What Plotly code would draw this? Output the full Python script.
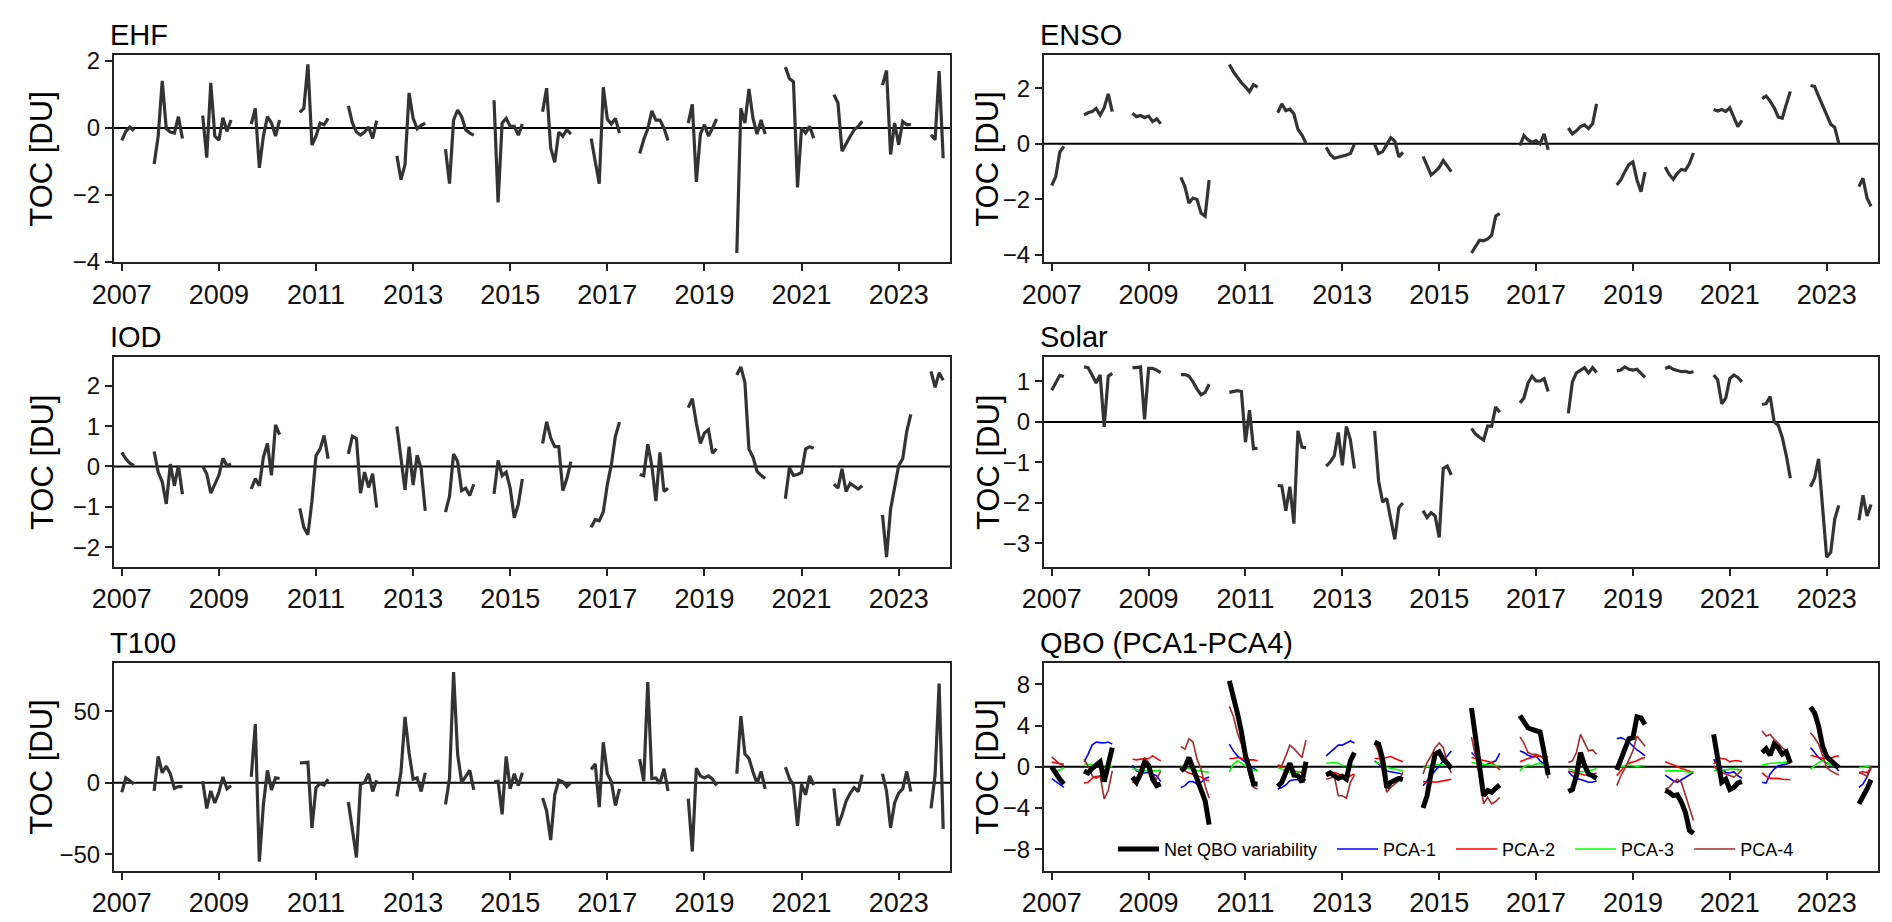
import plotly.graph_objects as go
from plotly.subplots import make_subplots

# time axis: Jan-Apr 2007, then Sep-Apr winters 2007/08 .. 2022/23, then Sep-Dec 2023
first_months = [1, 2, 3, 4]
winter_months = [9, 10, 11, 12, 1, 2, 3, 4]
last_months = [9, 10, 11, 12]
winter_years = list(range(2007, 2023))
year_ticks = list(range(2007, 2024, 2))

# one row per season segment (DU)
ehf = [
    [-0.37, -0.1, 0.03, -0.08],
    [-1.07, -0.24, 1.41, -0.02, -0.12, -0.15, 0.34, -0.31],
    [0.37, -0.88, 1.35, -0.24, -0.36, 0.31, -0.1, 0.24],
    [0.12, 0.59, -1.19, -0.24, 0.34, 0.15, -0.24, 0.24],
    [0.47, 0.59, 1.9, -0.51, -0.24, 0.15, 0.1, 0.29],
    [0.66, 0.15, -0.12, -0.21, -0.12, 0.03, -0.31, 0.22],
    [-0.83, -1.54, -1.09, 1.05, 0.29, -0.02, 0.08, 0.15],
    [-0.63, -1.66, 0.24, 0.54, 0.34, -0.05, -0.15, -0.21],
    [0.83, -2.22, 0.15, 0.29, 0.05, 0.05, -0.21, 0.12],
    [0.49, 1.19, -0.59, -1.02, -0.12, -0.24, -0.05, -0.18],
    [-0.31, -0.95, -1.66, 1.22, 0.27, 0.12, 0.29, -0.15],
    [-0.76, -0.34, -0.02, 0.51, 0.24, 0.24, 0.0, -0.37],
    [0.15, 0.71, -1.61, -0.18, 0.1, -0.24, 0.0, 0.27],
    [-3.73, 0.59, 0.15, 1.17, 0.29, -0.18, 0.24, -0.18],
    [1.82, 1.48, 1.38, -1.77, 0.0, -0.15, 0.05, -0.3],
    [1.0, 0.75, -0.69, -0.45, -0.25, -0.05, 0.05, 0.2],
    [1.28, 1.72, -0.79, 0.15, -0.5, 0.2, 0.1, 0.1],
    [-0.2, -0.35, 1.7, -0.9],
]

enso = [
    [-1.5, -1.18, -0.3, -0.09],
    [1.04, 1.12, 1.16, 1.28, 1.04, 1.3, 1.8, 1.16],
    [1.1, 0.98, 1.02, 0.95, 1.0, 0.8, 0.9, 0.72],
    [-1.21, -1.54, -2.13, -1.95, -2.0, -2.5, -2.6, -1.3],
    [2.86, 2.6, 2.4, 2.2, 2.05, 1.88, 2.13, 2.04],
    [1.12, 1.44, 1.2, 1.25, 1.08, 0.52, 0.32, 0.02],
    [-0.12, -0.38, -0.52, -0.47, -0.45, -0.4, -0.35, 0.0],
    [-0.02, -0.35, -0.28, 0.0, 0.22, 0.1, -0.47, -0.3],
    [-0.45, -0.82, -1.12, -1.0, -0.85, -0.6, -0.8, -1.0],
    [-3.93, -3.69, -3.47, -3.49, -3.42, -3.29, -2.6, -2.51],
    [-0.06, 0.3, 0.14, 0.06, 0.12, 0.0, 0.36, -0.22],
    [0.57, 0.36, 0.47, 0.62, 0.68, 0.55, 0.72, 1.44],
    [-1.48, -1.3, -1.0, -0.75, -0.65, -1.3, -1.72, -1.02],
    [-0.83, -1.1, -1.28, -1.06, -0.92, -0.95, -0.71, -0.33],
    [1.24, 1.18, 1.24, 1.16, 1.3, 0.95, 0.62, 0.85],
    [1.63, 1.72, 1.54, 1.3, 0.97, 0.92, 1.42, 1.89],
    [2.1, 2.07, 1.72, 1.36, 1.0, 0.71, 0.59, 0.02],
    [-1.54, -1.24, -1.95, -2.25],
]

iod = [
    [0.35, 0.19, 0.08, 0.02],
    [0.37, -0.14, -0.38, -0.93, 0.06, -0.48, 0.02, -0.69],
    [0.0, -0.18, -0.66, -0.46, -0.22, 0.2, 0.02, 0.06],
    [-0.56, -0.3, -0.48, 0.23, 0.57, -0.22, 1.03, 0.79],
    [-1.04, -1.51, -1.69, -0.86, 0.27, 0.43, 0.77, 0.19],
    [0.31, 0.75, 0.69, -0.66, -0.14, -0.52, -0.18, -1.02],
    [0.99, 0.19, -0.58, 0.49, -0.46, 0.28, -0.06, -1.1],
    [-1.13, -0.74, 0.31, 0.12, -0.6, -0.54, -0.72, -0.44],
    [-0.68, 0.15, -0.23, -0.14, -0.54, -1.27, -0.94, -0.31],
    [0.57, 1.11, 0.71, 0.49, 0.49, -0.6, -0.3, 0.12],
    [-1.51, -1.32, -1.35, -1.13, -0.45, 0.05, 0.75, 1.1],
    [-0.2, -0.23, 0.55, 0.02, -0.86, 0.35, -0.62, -0.54],
    [1.46, 1.68, 1.07, 0.57, 0.83, 0.91, 0.33, 0.44],
    [2.27, 2.47, 2.08, 0.43, 0.23, -0.12, -0.22, -0.3],
    [-0.8, -0.03, -0.22, -0.2, -0.15, 0.43, 0.49, 0.45],
    [-0.44, -0.54, -0.06, -0.62, -0.42, -0.5, -0.56, -0.48],
    [-1.2, -2.25, -1.06, -0.54, 0.02, 0.19, 0.87, 1.29],
    [2.36, 1.96, 2.32, 2.14],
]

solar = [
    [0.78, 0.97, 1.15, 1.12],
    [1.36, 1.34, 1.16, 0.96, 1.16, -0.12, 1.13, 1.2],
    [1.34, 1.34, 1.36, 0.06, 1.32, 1.32, 1.28, 1.22],
    [1.17, 1.17, 1.13, 0.99, 0.81, 0.67, 0.73, 0.93],
    [0.73, 0.75, 0.77, 0.75, -0.5, 0.29, -0.66, -0.65],
    [-1.57, -1.58, -2.19, -1.6, -2.51, -0.22, -0.62, -0.64],
    [-1.09, -0.99, -0.84, -0.26, -1.07, -0.11, -0.44, -1.15],
    [-0.22, -1.47, -1.98, -1.89, -2.4, -2.9, -2.12, -2.0],
    [-2.19, -2.36, -2.24, -2.32, -2.85, -1.15, -1.09, -1.31],
    [-0.16, -0.3, -0.38, -0.45, -0.1, -0.11, 0.37, 0.24],
    [0.47, 0.59, 0.96, 1.13, 1.01, 1.01, 1.07, 0.75],
    [0.21, 0.99, 1.21, 1.28, 1.34, 1.21, 1.34, 1.22],
    [1.26, 1.28, 1.36, 1.3, 1.28, 1.3, 1.2, 1.1],
    [1.32, 1.36, 1.3, 1.28, 1.24, 1.25, 1.22, 1.24],
    [1.16, 1.04, 0.45, 0.59, 1.07, 1.16, 1.1, 0.99],
    [0.43, 0.45, 0.63, 0.0, -0.08, -0.38, -0.83, -1.39],
    [-1.6, -1.39, -0.91, -2.12, -3.34, -3.22, -2.4, -2.06],
    [-2.43, -1.81, -2.32, -2.04],
]

t100 = [
    [-6.6, 3.4, 1.4, -0.9],
    [-5.7, 18.4, 7.0, 11.6, 6.3, -3.9, -2.7, -2.7],
    [1.1, -17.9, -5.7, -14.1, -6.6, 4.1, -4.3, -2.0],
    [4.1, 41.0, -55.0, -15.2, 8.6, -5.0, 3.4, 3.0],
    [13.8, 14.3, 14.3, -31.5, -3.4, -0.5, -1.6, 2.5],
    [-13.4, -33.3, -52.2, -1.1, 0.2, 6.3, -6.1, 1.8],
    [-9.5, 7.5, 46.0, 21.0, 2.5, 3.4, -6.1, 7.0],
    [-15.2, 3.0, 77.3, 20.0, 0.2, 4.1, 8.6, -5.0],
    [0.7, 1.1, -22.0, 18.4, -4.3, 6.3, -2.0, 7.0],
    [-10.7, -19.7, -40.0, -8.4, 1.8, 0.7, -2.7, 0.2],
    [9.3, 13.2, -17.0, 28.3, 6.3, 0.7, -15.9, -4.3],
    [16.6, 1.1, 70.3, 3.0, 3.4, -0.5, 9.8, -5.7],
    [-11.1, -48.0, 10.2, 4.8, 3.4, 4.8, 2.5, -2.0],
    [6.3, 46.5, 20.0, 17.0, 7.5, -0.5, 7.9, -4.3],
    [10.9, 3.0, -1.6, -30.0, -1.1, -8.4, 4.8, -1.6],
    [-3.9, -30.0, -22.4, -12.9, -7.3, -3.4, -6.1, 5.7],
    [6.3, -5.7, -31.5, -14.1, -7.3, -4.3, 7.9, -6.1],
    [-17.9, 5.2, 69.2, -32.2],
]

qbo_net = [
    [0.0, -0.7, -1.2, -1.67],
    [-0.4, -0.6, -0.16, 0.16, 0.48, -1.44, 0.1, 1.86],
    [-1.0, -1.5, -0.7, 0.42, 0.1, -1.2, -1.83, -1.67],
    [-0.4, -0.06, 0.9, -0.22, -1.0, -2.3, -3.27, -5.6],
    [8.33, 6.9, 5.2, 3.37, 1.06, -0.16, -1.67, -1.67],
    [-1.9, -1.5, -0.55, 0.35, -0.8, -0.87, -1.5, 0.48],
    [-0.8, -0.6, -0.87, -1.12, -0.93, -1.2, 0.58, 1.38],
    [2.4, 2.2, 0.74, -2.0, -1.5, -1.35, -1.12, -1.25],
    [-4.0, -2.8, -0.55, 1.22, 1.44, 0.74, 0.35, -0.16],
    [5.7, 2.82, 0.1, -2.8, -2.3, -2.47, -2.08, -1.76],
    [4.97, 4.4, 3.78, 3.62, 3.46, 3.37, 1.38, -0.8],
    [-2.4, -2.2, -0.87, 1.38, 0.16, -0.7, -0.87, -1.12],
    [-0.3, 0.74, 2.0, 2.72, 2.82, 4.84, 4.74, 4.1],
    [-2.3, -2.47, -2.8, -2.72, -3.43, -4.4, -6.15, -6.47],
    [3.14, 0.74, -1.5, -1.2, -2.2, -2.0, -1.57, -1.44],
    [1.38, 1.76, 1.12, 2.2, 1.86, 1.22, 1.44, 0.35],
    [5.8, 5.24, 3.94, 2.0, 0.99, 0.58, 0.26, -0.06],
    [-3.6, -2.95, -2.15, -1.25],
]

pca1 = [
    [-1.15, -1.4, -1.7, -2.0],
    [0.48, 1.2, 2.1, 2.4, 2.34, 2.3, 2.4, 2.2],
    [0.16, -0.4, -0.55, -0.6, -0.55, -0.7, -0.87, -1.44],
    [-2.0, -1.83, -1.44, -1.44, -1.67, -1.5, -1.12, -1.0],
    [2.2, 1.54, 1.06, 0.74, 0.42, 0.1, -0.16, -0.4],
    [-2.15, -2.0, -1.76, -1.35, -1.25, -1.25, -1.2, -1.25],
    [1.06, 1.38, 1.76, 2.1, 2.1, 2.3, 2.5, 2.3],
    [0.58, 0.26, -0.06, -0.4, -0.48, -0.55, -0.6, -0.7],
    [-1.83, -1.35, -0.87, -0.4, 0.1, 0.58, 0.99, 1.54],
    [1.38, 0.99, 0.58, 0.1, 0.26, 0.35, 0.58, 1.31],
    [1.54, 1.38, 1.12, 0.99, 1.06, 0.58, 0.26, -0.06],
    [-0.48, -0.87, -1.12, -1.2, -1.35, -1.5, -1.5, -1.35],
    [2.72, 2.82, 2.66, 2.4, 2.0, 1.63, 1.38, 1.06],
    [-0.8, -1.12, -1.35, -1.5, -1.25, -1.0, -0.8, -0.55],
    [0.74, 0.1, -0.22, -0.55, -0.6, -0.48, -0.87, -1.12],
    [-1.5, -1.57, -0.7, -0.22, 0.1, 0.16, 0.26, 0.42],
    [1.86, 1.38, 0.9, 0.58, 0.35, 0.16, 0.03, -0.4],
    [-2.0, -1.67, -1.0, -0.06],
]

pca2 = [
    [0.45, 0.38, 0.3, 0.25],
    [-1.57, -1.5, -1.1, -0.95, -0.9, -0.5, -0.1, 0.0],
    [0.74, 0.67, 0.74, 0.8, 0.8, 1.06, 0.8, 0.58],
    [-0.06, -0.4, -0.6, -0.7, -0.87, -1.0, -1.25, -1.35],
    [0.8, 0.8, 0.9, 0.8, 0.74, 0.67, 0.67, 0.58],
    [0.1, 0.0, -0.16, -0.22, -0.4, -0.48, -0.55, -0.4],
    [-0.87, -0.7, -0.55, -0.7, -0.87, -1.2, -0.87, -0.7],
    [0.8, 0.8, 0.8, 0.9, 0.99, 0.8, 0.67, 0.48],
    [-1.44, -1.5, -1.44, -1.5, -1.44, -1.35, -1.25, -1.2],
    [0.9, 0.8, 0.74, 0.58, 0.48, 0.42, 0.1, -0.3],
    [0.48, 0.67, 0.8, 0.9, 0.99, 1.06, 0.9, 0.99],
    [-0.4, -0.48, -0.6, -0.7, -0.8, -0.8, -0.7, -0.6],
    [-0.87, -0.4, 0.1, 0.35, 0.48, 0.58, 0.8, 0.9],
    [0.48, 0.35, 0.16, 0.03, -0.16, -0.3, -0.4, -0.55],
    [0.26, 0.9, 0.8, 0.74, 0.48, 0.58, 0.58, 0.48],
    [-0.6, -0.93, -1.12, -1.12, -1.12, -1.2, -1.2, -1.25],
    [1.12, 0.99, 0.9, 0.8, 0.8, 0.8, 0.99, 1.06],
    [-0.55, -0.48, -0.55, -0.22],
]

pca3 = [
    [-0.35, -0.4, -0.3, -0.1],
    [0.3, 0.2, 0.25, 0.2, 0.15, 0.1, 0.05, 0.0],
    [-0.2, -0.26, -0.4, -0.4, -0.42, -0.4, -0.4, -0.3],
    [0.1, -0.06, -0.16, -0.3, -0.4, -0.4, -0.5, -0.5],
    [-0.48, 0.26, 0.58, 0.35, 0.1, -0.16, -0.3, -0.4],
    [-0.06, -0.22, -0.4, -0.55, -0.6, -0.48, -0.4, -0.3],
    [0.35, 0.42, 0.42, 0.35, 0.1, 0.1, 0.16, 0.1],
    [0.48, 0.35, 0.1, -0.06, -0.16, -0.22, -0.3, -0.4],
    [-0.06, 0.03, 0.1, 0.16, 0.22, 0.22, 0.1, 0.03],
    [0.42, 0.35, 0.35, 0.26, 0.16, 0.16, 0.1, 0.1],
    [-0.4, 0.03, 0.16, 0.1, 0.26, 0.35, 0.1, -0.06],
    [-0.22, -0.3, -0.4, -0.48, -0.48, -0.4, -0.3, -0.16],
    [-0.06, 0.03, 0.1, 0.16, 0.1, 0.03, 0.1, 0.1],
    [-0.4, -0.4, -0.4, -0.4, -0.4, -0.48, -0.55, -0.48],
    [-0.4, -0.3, -0.3, -0.3, -0.22, -0.22, -0.3, -0.3],
    [0.16, 0.26, 0.35, 0.35, 0.42, 0.42, 0.48, 0.42],
    [-0.22, 0.1, 0.42, 0.58, 0.42, 0.16, 0.1, 0.03],
    [-0.06, -0.06, 0.03, 0.1],
]

pca4 = [
    [0.96, 0.6, 0.26, 0.1],
    [0.74, 0.1, -0.87, -1.12, -0.87, -3.1, -2.3, -0.4],
    [-1.57, -1.2, -0.2, 0.9, 0.42, -0.87, -1.2, -0.4],
    [1.95, 1.7, 2.72, 2.4, 0.74, -0.22, -1.83, -3.05],
    [5.87, 4.9, 3.3, 2.2, 0.74, -0.87, -2.0, -2.15],
    [0.16, 0.1, 1.06, 2.1, 1.76, 1.38, 0.9, 2.6],
    [-1.2, -1.12, -0.87, -2.8, -2.8, -3.05, -1.5, -0.8],
    [2.34, 1.38, -0.55, -2.47, -2.0, -1.67, -1.35, -0.55],
    [-0.7, 0.42, 1.06, 1.86, 2.3, 1.86, 0.42, -0.6],
    [2.9, 1.06, -0.87, -3.6, -2.95, -3.6, -3.37, -2.95],
    [2.9, 2.3, 1.38, 1.22, 1.22, 1.06, 0.74, -1.12],
    [0.42, 0.58, 1.38, 3.14, 2.34, 1.54, 1.63, 1.22],
    [-1.83, -0.87, -0.16, 0.74, 1.54, 2.98, 2.5, 2.0],
    [-2.15, -2.0, -1.5, -1.2, -1.5, -2.8, -4.07, -5.2],
    [0.1, -0.4, -0.55, -0.7, -0.87, -1.0, -0.7, -0.3],
    [3.46, 2.98, 3.14, 2.66, 2.3, 1.86, 1.54, 0.42],
    [3.3, 2.82, 2.2, 1.06, -0.06, -0.4, -0.6, -0.8],
    [-0.6, -0.7, -0.93, 0.1],
]


def season_times():
    segs = [[2007 + (m - 1) / 12 for m in first_months]]
    for y in winter_years:
        segs.append([(y if m >= 9 else y + 1) + (m - 1) / 12 for m in winter_months])
    segs.append([2023 + (m - 1) / 12 for m in last_months])
    return segs


def flat(segs):
    # join segments with None so plotly breaks the line between seasons
    out = []
    for s in segs:
        out += list(s) + [None]
    return out[:-1]


times = flat(season_times())

fig = make_subplots(rows=3, cols=2)

# panel geometry (paper fractions)
xdom = [[0.0, 0.474], [0.5272, 1.0]]
ydom = [[0.7458, 1.0], [0.3729, 0.6295], [0.0, 0.2554]]

panels = [
    ("EHF", ehf, 1, 1, 2),
    ("ENSO", enso, 1, 2, 2),
    ("IOD", iod, 2, 1, 1),
    ("Solar", solar, 2, 2, 1),
    ("T100", t100, 3, 1, 50),
]

FONT = "Liberation Sans, Arial, sans-serif"
GREY = "#333333"
FRAME = "#222222"

for name, series, r, c, dt in panels:
    fig.add_trace(
        go.Scatter(x=times, y=flat(series), mode="lines", showlegend=False,
                   line={"color": GREY, "width": 3.2}),
        r, c,
    )
    vals = [v for s in series for v in s]
    lo, hi = min(vals), max(vals)
    pad = 0.05 * (hi - lo)
    fig.update_yaxes(range=[lo - pad, hi + pad], dtick=dt, row=r, col=c)

# QBO panel
qbo_lines = [
    ("PCA-1", pca1, "blue", 1.6, 2),
    ("PCA-2", pca2, "red", 1.6, 3),
    ("PCA-3", pca3, "#00ff00", 1.6, 4),
    ("PCA-4", pca4, "brown", 1.6, 5),
    ("Net QBO variability", qbo_net, "black", 5, 1),
]
for name, series, col, w, rank in qbo_lines:
    fig.add_trace(
        go.Scatter(x=times, y=flat(series), mode="lines", name=name + "\u00a0\u00a0",
                   legendrank=rank, line={"color": col, "width": w}),
        3, 2,
    )
fig.update_yaxes(range=[-10.1, 10.1], dtick=4, row=3, col=2)

titles = ["EHF", "ENSO", "IOD", "Solar", "T100", "QBO (PCA1-PCA4)"]
for i, t in enumerate(titles):
    r, c = i // 2, i % 2
    fig.add_annotation(text=t, xref="paper", yref="paper", x=xdom[c][0], y=ydom[r][1],
                       xanchor="left", yanchor="bottom", showarrow=False, yshift=2,
                       xshift=-6, font={"size": 29, "color": "black", "family": FONT})
    fig.add_annotation(text="TOC [DU]", xref="paper", yref="paper",
                       x=[-0.0408, 0.4955][c], y=sum(ydom[r]) / 2, textangle=-90,
                       xanchor="center", yanchor="middle", showarrow=False,
                       font={"size": 31, "color": "black", "family": FONT})

for r in range(1, 4):
    for c in range(1, 3):
        fig.add_hline(y=0, line={"color": "black", "width": 2}, layer="below", row=r, col=c)

fig.update_xaxes(range=[2006.84, 2024.06], tickvals=year_ticks, ticks="outside", ticklen=7,
                 tickwidth=1.5, tickcolor=FRAME, showline=True, mirror=True,
                 linecolor=FRAME, linewidth=2, showgrid=False, zeroline=False,
                 tickfont={"size": 27, "color": "#111111", "family": FONT})
fig.update_yaxes(ticks="outside", ticklen=7, tickwidth=1.5, tickcolor=FRAME, showline=True,
                 mirror=True, linecolor=FRAME, linewidth=2, showgrid=False, zeroline=False,
                 tickfont={"size": 24, "color": "#111111", "family": FONT})

layout_axes = {}
for i in range(6):
    r, c = i // 2, i % 2
    suffix = "" if i == 0 else str(i + 1)
    layout_axes["xaxis" + suffix] = {"domain": xdom[c]}
    layout_axes["yaxis" + suffix] = {"domain": ydom[r]}
fig.update_layout(**layout_axes)

fig.update_layout(
    width=1892, height=922,
    margin={"l": 106, "r": 22, "t": 47, "b": 49},
    plot_bgcolor="white", paper_bgcolor="white",
    font={"family": FONT, "color": "black"},
    legend={"orientation": "h", "x": 0.7636, "xanchor": "center", "y": 0.0266,
            "yanchor": "middle", "bgcolor": "rgba(0,0,0,0)", "itemwidth": 41,
            "font": {"size": 18, "family": FONT}},
)

fig.write_html("out.html")
